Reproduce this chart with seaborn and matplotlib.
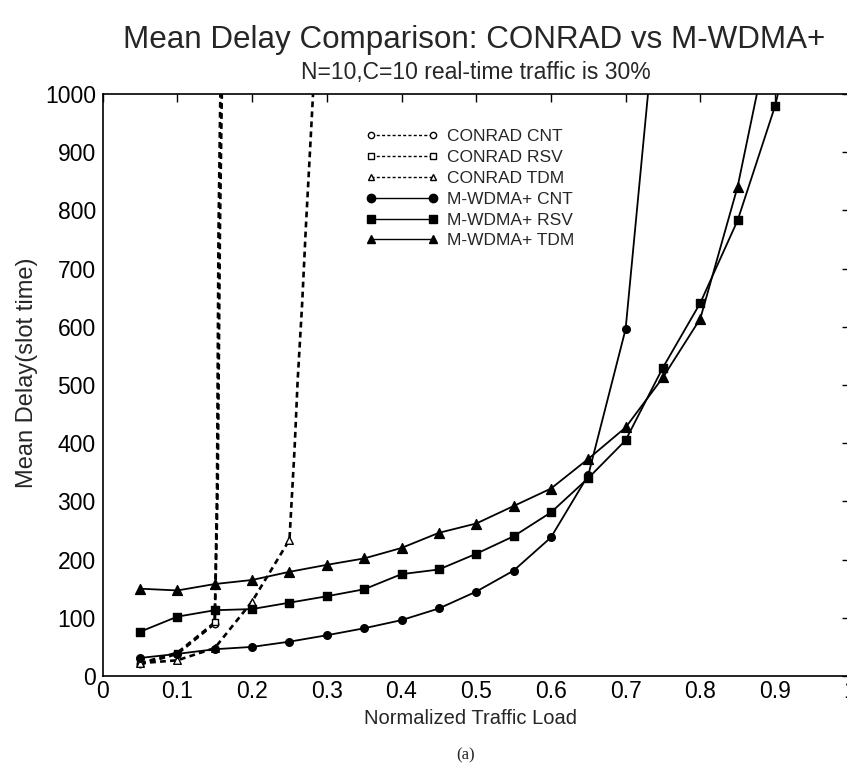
import numpy as np
import pandas as pd
import matplotlib
matplotlib.use("Agg")
import matplotlib.pyplot as plt
from matplotlib.lines import Line2D
import seaborn as sns

# ---------------- data ----------------
mw_cnt_x = [0.05, 0.10, 0.15, 0.20, 0.25, 0.30, 0.35, 0.40, 0.45, 0.50, 0.55, 0.60, 0.65, 0.70, 0.75]
mw_cnt_y = [31, 38, 46, 50, 59, 70, 82, 96, 116, 145, 181, 238, 345, 596, 1270]

mw_rsv_x = [0.05, 0.10, 0.15, 0.20, 0.25, 0.30, 0.35, 0.40, 0.45, 0.50, 0.55, 0.60, 0.65, 0.70,
            0.75, 0.80, 0.85, 0.90, 0.95]
mw_rsv_y = [76, 102, 113, 115, 126, 137, 149, 175, 183, 210, 240, 281, 340, 405,
            530, 641, 783, 979, 1250]

mw_tdm_x = [0.05, 0.10, 0.15, 0.20, 0.25, 0.30, 0.35, 0.40, 0.45, 0.50, 0.55, 0.60, 0.65, 0.70,
            0.75, 0.80, 0.85, 0.90]
mw_tdm_y = [150, 147, 158, 165, 179, 191, 202, 220, 246, 262, 292, 322, 373, 427,
            513, 614, 841, 1150]

cr_cnt_x = [0.05, 0.10, 0.15, 0.154, 0.157, 0.160]
cr_cnt_y = [20, 38, 90, 330, 770, 1050]

cr_rsv_x = [0.05, 0.10, 0.15, 0.153, 0.155, 0.158]
cr_rsv_y = [22, 40, 92, 320, 760, 1050]

cr_tdm_x = [0.05, 0.10, 0.15, 0.20, 0.25, 0.257, 0.261, 0.267, 0.272, 0.277, 0.282]
cr_tdm_y = [22, 27, 48, 128, 234, 394, 508, 640, 772, 890, 1010]

series_names = ["CONRAD CNT", "CONRAD RSV", "CONRAD TDM",
                "M-WDMA+ CNT", "M-WDMA+ RSV", "M-WDMA+ TDM"]

x_ticks = [0, 0.1, 0.2, 0.3, 0.4, 0.5, 0.6, 0.7, 0.8, 0.9, 1.0]
x_tick_labels = ["0", "0.1", "0.2", "0.3", "0.4", "0.5", "0.6", "0.7", "0.8", "0.9", "1"]
y_ticks = [0, 100, 200, 300, 400, 500, 600, 700, 800, 900, 1000]

title_text = "Mean Delay Comparison: CONRAD vs M-WDMA+"
subtitle_text = "N=10,C=10 real-time traffic is 30%"
x_label = "Normalized Traffic Load"
y_label = "Mean Delay(slot time)"
caption = "(a)"

# ---------------- style ----------------
sns.set_style("white")
plt.rcParams["font.family"] = ["Liberation Sans", "DejaVu Sans"]

fig = plt.figure(figsize=(8.47, 7.73), dpi=100)
ax = fig.add_axes([102.7 / 847, (773 - 676) / 773, 747 / 847, 582 / 773])

series = [
    (cr_cnt_x, cr_cnt_y, "o", True, 22),
    (cr_rsv_x, cr_rsv_y, "s", True, 20),
    (cr_tdm_x, cr_tdm_y, "^", True, 30),
    (mw_cnt_x, mw_cnt_y, "o", False, 30),
    (mw_rsv_x, mw_rsv_y, "s", False, 34),
    (mw_tdm_x, mw_tdm_y, "^", False, 50),
]

for (xs, ys, mk, dashed, sz), name in zip(series, series_names):
    df = pd.DataFrame({"x": xs, "y": ys})
    sns.lineplot(data=df, x="x", y="y", sort=False, estimator=None, color="black",
                 linewidth=1.9 if dashed else 1.3, ax=ax, legend=False)
    if dashed:
        ax.lines[-1].set_dashes([2.2, 1.6])
    xa = np.array(xs)
    sel = np.isclose(xa * 20, np.round(xa * 20))
    dm = df[sel]
    sns.scatterplot(data=dm, x="x", y="y", marker=mk, s=sz,
                    facecolor="white" if dashed else "black",
                    edgecolor="black", linewidth=1.0, ax=ax, legend=False, zorder=3)

ax.set_xlim(0, 1)
ax.set_ylim(0, 1000)
ax.set_xticks(x_ticks)
ax.set_xticklabels(x_tick_labels)
ax.set_yticks(y_ticks)
ax.tick_params(direction="in", top=True, right=True, length=6, width=1,
               labelsize=16.5, colors="black", pad=5)
ax.tick_params(axis="x", pad=3)
for sp in ax.spines.values():
    sp.set_color("black")
    sp.set_linewidth(1.2)

ax.set_xlabel(x_label, fontsize=14.5)
ax.set_ylabel(y_label, fontsize=17)
ax.xaxis.set_label_coords(0.4925, -(719 - 676) / 582, transform=ax.transAxes)
ax.yaxis.set_label_coords(-(102.7 - 27) / 747, (676 - 373) / 582, transform=ax.transAxes)
ax.xaxis.label.set_va("center")
ax.yaxis.label.set_va("center")

fig.text(474 / 847, 1 - 40 / 773, title_text, ha="center", va="center", fontsize=22.6)
fig.text(476 / 847, 1 - 72 / 773, subtitle_text, ha="center", va="center", fontsize=16.5)
fig.text(466 / 847, 1 - 755 / 773, caption, ha="center", va="center", fontsize=12,
         family=["Liberation Serif", "DejaVu Serif"])

# legend
handles = []
for (xs, ys, mk, dashed, sz), name in zip(series, series_names):
    h = Line2D([0], [0], color="black", linestyle=(0, (2.2, 1.6)) if dashed else "-",
               linewidth=1.0, marker=mk,
               markersize=4.5 if dashed else 6,
               markerfacecolor="white" if dashed else "black",
               markeredgecolor="black")
    handles.append(h)
leg = ax.legend(handles, series_names, loc="upper left", bbox_to_anchor=(0.352, 0.940),
                frameon=False, numpoints=2, handlelength=4.2, handletextpad=0.5,
                labelspacing=0.33, fontsize=12.5, borderaxespad=0, borderpad=0)

fig.savefig("out.png", dpi=100)
